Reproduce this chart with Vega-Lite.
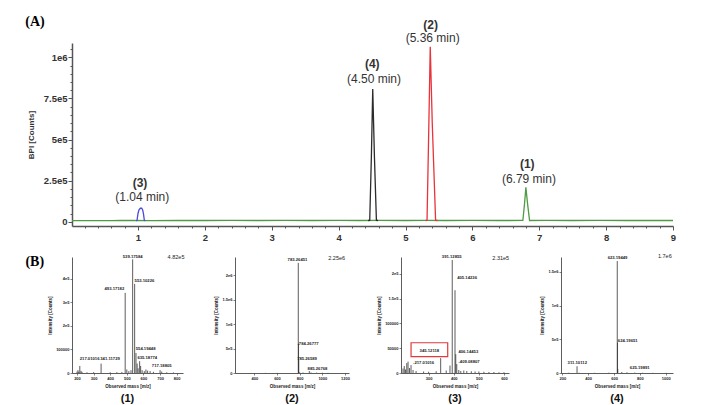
{
  "$schema": "https://vega.github.io/schema/vega-lite/v6.json",
  "autosize": {"type": "pad"},
  "padding": {"left": 25, "top": 15, "right": 20, "bottom": 3},
  "background": "white",
  "bounds": "flush",
  "spacing": 31,
  "datasets": {
    "chrom": [
      {"series": "green", "t": 0.013, "v": 7000},
      {"series": "green", "t": 0.3, "v": 7200},
      {"series": "green", "t": 0.6, "v": 6800},
      {"series": "green", "t": 0.75, "v": 8000},
      {"series": "green", "t": 0.9, "v": 7500},
      {"series": "green", "t": 1.2, "v": 7200},
      {"series": "green", "t": 1.6, "v": 7600},
      {"series": "green", "t": 2.0, "v": 7400},
      {"series": "green", "t": 2.4, "v": 7800},
      {"series": "green", "t": 2.8, "v": 7500},
      {"series": "green", "t": 3.2, "v": 7700},
      {"series": "green", "t": 3.6, "v": 7400},
      {"series": "green", "t": 4.0, "v": 7900},
      {"series": "green", "t": 4.3, "v": 7600},
      {"series": "green", "t": 4.6, "v": 7800},
      {"series": "green", "t": 5.0, "v": 7500},
      {"series": "green", "t": 5.3, "v": 7700},
      {"series": "green", "t": 5.6, "v": 7400},
      {"series": "green", "t": 6.0, "v": 7800},
      {"series": "green", "t": 6.4, "v": 7500},
      {"series": "green", "t": 6.755, "v": 7600},
      {"series": "green", "t": 6.78, "v": 110000},
      {"series": "green", "t": 6.8, "v": 209000},
      {"series": "green", "t": 6.825, "v": 110000},
      {"series": "green", "t": 6.855, "v": 7600},
      {"series": "green", "t": 7.1, "v": 7700},
      {"series": "green", "t": 7.5, "v": 7500},
      {"series": "green", "t": 7.9, "v": 7800},
      {"series": "green", "t": 8.3, "v": 7400},
      {"series": "green", "t": 8.7, "v": 7600},
      {"series": "green", "t": 9.0, "v": 7500},
      {"series": "blue", "t": 0.97, "v": 7000},
      {"series": "blue", "t": 0.985, "v": 7500},
      {"series": "blue", "t": 1.0, "v": 50000},
      {"series": "blue", "t": 1.015, "v": 73000},
      {"series": "blue", "t": 1.035, "v": 82000},
      {"series": "blue", "t": 1.055, "v": 82000},
      {"series": "blue", "t": 1.07, "v": 72000},
      {"series": "blue", "t": 1.083, "v": 45000},
      {"series": "blue", "t": 1.095, "v": 7500},
      {"series": "blue", "t": 1.11, "v": 7000},
      {"series": "black", "t": 4.44, "v": 7500},
      {"series": "black", "t": 4.465, "v": 8000},
      {"series": "black", "t": 4.49, "v": 400000},
      {"series": "black", "t": 4.51, "v": 807000},
      {"series": "black", "t": 4.535, "v": 400000},
      {"series": "black", "t": 4.565, "v": 8000},
      {"series": "black", "t": 4.59, "v": 7500},
      {"series": "red", "t": 5.3, "v": 7500},
      {"series": "red", "t": 5.322, "v": 8000},
      {"series": "red", "t": 5.345, "v": 500000},
      {"series": "red", "t": 5.37, "v": 1064000},
      {"series": "red", "t": 5.4, "v": 600000},
      {"series": "red", "t": 5.45, "v": 8000},
      {"series": "red", "t": 5.48, "v": 7500}
    ],
    "peak_ids": [
      {"t": 1.03, "v": 237000, "label": "(3)"},
      {"t": 4.503, "v": 957500, "label": "(4)"},
      {"t": 5.376, "v": 1198500, "label": "(2)"},
      {"t": 6.821, "v": 351000, "label": "(1)"}
    ],
    "peak_rts": [
      {"t": 1.064, "v": 152000, "label": "(1.04 min)"},
      {"t": 4.529, "v": 868000, "label": "(4.50 min)"},
      {"t": 5.406, "v": 1117000, "label": "(5.36 min)"},
      {"t": 6.846, "v": 260000, "label": "(6.79 min)"}
    ],
    "sticks": [
      {"panel": 1, "mz": 200, "inten": 6000},
      {"panel": 1, "mz": 206, "inten": 12000},
      {"panel": 1, "mz": 211, "inten": 5000},
      {"panel": 1, "mz": 217, "inten": 30000},
      {"panel": 1, "mz": 224, "inten": 9000},
      {"panel": 1, "mz": 230, "inten": 5000},
      {"panel": 1, "mz": 260, "inten": 3000},
      {"panel": 1, "mz": 300, "inten": 3500},
      {"panel": 1, "mz": 345, "inten": 40000},
      {"panel": 1, "mz": 400, "inten": 3000},
      {"panel": 1, "mz": 440, "inten": 3500},
      {"panel": 1, "mz": 470, "inten": 4000},
      {"panel": 1, "mz": 490, "inten": 340000},
      {"panel": 1, "mz": 500, "inten": 15000},
      {"panel": 1, "mz": 512, "inten": 8000},
      {"panel": 1, "mz": 525, "inten": 12000},
      {"panel": 1, "mz": 535, "inten": 482000},
      {"panel": 1, "mz": 547, "inten": 378000},
      {"panel": 1, "mz": 555, "inten": 85000},
      {"panel": 1, "mz": 562, "inten": 40000},
      {"panel": 1, "mz": 568, "inten": 20000},
      {"panel": 1, "mz": 577, "inten": 50000},
      {"panel": 1, "mz": 583, "inten": 30000},
      {"panel": 1, "mz": 592, "inten": 12000},
      {"panel": 1, "mz": 605, "inten": 8000},
      {"panel": 1, "mz": 615, "inten": 15000},
      {"panel": 1, "mz": 625, "inten": 10000},
      {"panel": 1, "mz": 640, "inten": 8000},
      {"panel": 1, "mz": 660, "inten": 5000},
      {"panel": 1, "mz": 700, "inten": 12000},
      {"panel": 1, "mz": 710, "inten": 6000},
      {"panel": 1, "mz": 740, "inten": 3000},
      {"panel": 1, "mz": 780, "inten": 2500},
      {"panel": 2, "mz": 500, "inten": 3000},
      {"panel": 2, "mz": 600, "inten": 3000},
      {"panel": 2, "mz": 788, "inten": 2250000},
      {"panel": 2, "mz": 790, "inten": 600000},
      {"panel": 2, "mz": 792, "inten": 280000},
      {"panel": 2, "mz": 800, "inten": 15000},
      {"panel": 2, "mz": 830, "inten": 10000},
      {"panel": 2, "mz": 885, "inten": 40000},
      {"panel": 2, "mz": 900, "inten": 10000},
      {"panel": 2, "mz": 950, "inten": 8000},
      {"panel": 2, "mz": 1000, "inten": 5000},
      {"panel": 2, "mz": 1050, "inten": 4000},
      {"panel": 3, "mz": 198, "inten": 9000},
      {"panel": 3, "mz": 203, "inten": 14000},
      {"panel": 3, "mz": 208, "inten": 7000},
      {"panel": 3, "mz": 213, "inten": 20000},
      {"panel": 3, "mz": 218, "inten": 23000},
      {"panel": 3, "mz": 224, "inten": 10000},
      {"panel": 3, "mz": 230, "inten": 16000},
      {"panel": 3, "mz": 238, "inten": 6000},
      {"panel": 3, "mz": 250, "inten": 4000},
      {"panel": 3, "mz": 280, "inten": 3000},
      {"panel": 3, "mz": 300, "inten": 2500},
      {"panel": 3, "mz": 330, "inten": 3500},
      {"panel": 3, "mz": 348, "inten": 30000},
      {"panel": 3, "mz": 370, "inten": 5000},
      {"panel": 3, "mz": 385, "inten": 15000},
      {"panel": 3, "mz": 394, "inten": 228000},
      {"panel": 3, "mz": 405, "inten": 167000},
      {"panel": 3, "mz": 408, "inten": 38000},
      {"panel": 3, "mz": 412, "inten": 18000},
      {"panel": 3, "mz": 420, "inten": 6000},
      {"panel": 3, "mz": 428, "inten": 4000},
      {"panel": 3, "mz": 440, "inten": 5000},
      {"panel": 3, "mz": 452, "inten": 4000},
      {"panel": 3, "mz": 470, "inten": 3500},
      {"panel": 3, "mz": 485, "inten": 3000},
      {"panel": 3, "mz": 500, "inten": 3000},
      {"panel": 3, "mz": 520, "inten": 2500},
      {"panel": 3, "mz": 540, "inten": 2000},
      {"panel": 3, "mz": 560, "inten": 2000},
      {"panel": 3, "mz": 580, "inten": 1500},
      {"panel": 3, "mz": 600, "inten": 1500},
      {"panel": 4, "mz": 250, "inten": 4000},
      {"panel": 4, "mz": 314, "inten": 100000},
      {"panel": 4, "mz": 330, "inten": 4000},
      {"panel": 4, "mz": 450, "inten": 3000},
      {"panel": 4, "mz": 560, "inten": 5000},
      {"panel": 4, "mz": 625, "inten": 1660000},
      {"panel": 4, "mz": 627, "inten": 450000},
      {"panel": 4, "mz": 629, "inten": 60000},
      {"panel": 4, "mz": 660, "inten": 15000},
      {"panel": 4, "mz": 700, "inten": 10000},
      {"panel": 4, "mz": 760, "inten": 6000},
      {"panel": 4, "mz": 820, "inten": 4000},
      {"panel": 4, "mz": 900, "inten": 3000},
      {"panel": 4, "mz": 1000, "inten": 2000}
    ],
    "speclab": [
      {"panel": 1, "lx": 535, "ly": 493000, "text": "539.17584"},
      {"panel": 1, "lx": 606, "ly": 390000, "text": "553.10226"},
      {"panel": 1, "lx": 425, "ly": 356000, "text": "493.17182"},
      {"panel": 1, "lx": 613, "ly": 103000, "text": "554.19448"},
      {"panel": 1, "lx": 623, "ly": 65000, "text": "635.18774"},
      {"panel": 1, "lx": 710, "ly": 28000, "text": "717.18805"},
      {"panel": 1, "lx": 276, "ly": 59000, "text": "217.01016"},
      {"panel": 1, "lx": 399, "ly": 59000, "text": "341.11729"},
      {"panel": 2, "lx": 781, "ly": 2300000, "text": "783.26451"},
      {"panel": 2, "lx": 874, "ly": 590000, "text": "-784.26777"},
      {"panel": 2, "lx": 865, "ly": 286000, "text": "785.26589"},
      {"panel": 2, "lx": 957, "ly": 82000, "text": "885.26768"},
      {"panel": 3, "lx": 392, "ly": 233000, "text": "391.12855"},
      {"panel": 3, "lx": 453, "ly": 192000, "text": "405.14236"},
      {"panel": 3, "lx": 458, "ly": 42000, "text": "406.14453"},
      {"panel": 3, "lx": 461, "ly": 22000, "text": "-409.08807"},
      {"panel": 3, "lx": 303, "ly": 44000, "text": "345.12118"},
      {"panel": 3, "lx": 280, "ly": 19600, "text": "-217.01016"},
      {"panel": 4, "lx": 627, "ly": 1705000, "text": "623.19449"},
      {"panel": 4, "lx": 706, "ly": 474000, "text": "624.19651"},
      {"panel": 4, "lx": 799, "ly": 79000, "text": "625.19891"},
      {"panel": 4, "lx": 316, "ly": 144000, "text": "311.10112"}
    ],
    "maxlab": [
      {"panel": 1, "lx": 796, "ly": 493000, "text": "4.82e5"},
      {"panel": 2, "lx": 1126, "ly": 2340000, "text": "2.25e6"},
      {"panel": 3, "lx": 587, "ly": 232000, "text": "2.31e5"},
      {"panel": 4, "lx": 993, "ly": 1730000, "text": "1.7e6"}
    ],
    "box": [
      {"panel": 3, "x1": 230, "x2": 376, "y1": 33000, "y2": 61000}
    ]
  },
  "vconcat": [
    {
      "width": 601,
      "height": 183,
      "layer": [
        {
          "data": {"name": "chrom"},
          "mark": {"type": "line", "strokeWidth": 1.3},
          "encoding": {
            "x": {
              "field": "t", "type": "quantitative",
              "scale": {"domain": [0.013, 9], "nice": false, "zero": false},
              "axis": {
                "title": null,
                "tickCount": 200,
                "values": [0.2,0.4,0.6,0.8,1,1.2,1.4,1.6,1.8,2,2.2,2.4,2.6,2.8,3,3.2,3.4,3.6,3.8,4,4.2,4.4,4.6,4.8,5,5.2,5.4,5.6,5.8,6,6.2,6.4,6.6,6.8,7,7.2,7.4,7.6,7.8,8,8.2,8.4,8.6,8.8,9],
                "labelExpr": "abs(datum.value-round(datum.value))<0.001 ? format(datum.value,'d') : ''",
                "tickSize": {"condition": {"test": "abs(datum.value-round(datum.value))<0.001", "value": 4}, "value": 2},
                "labelOverlap": false, "labelFlush": false, "labelBound": false,
                "labelFontSize": 9.5, "labelFontWeight": "bold", "labelColor": "#333",
                "labelPadding": 2, "domainColor": "#555", "domainWidth": 1.5,
                "tickColor": "#555", "tickWidth": 1
              }
            },
            "y": {
              "field": "v", "type": "quantitative",
              "scale": {"domain": [-26000, 1087000], "nice": false, "zero": false},
              "axis": {
                "title": "BPI [Counts]",
                "tickCount": 200,
                "values": [0,50000,100000,150000,200000,250000,300000,350000,400000,450000,500000,550000,600000,650000,700000,750000,800000,850000,900000,950000,1000000,1050000],
                "labelExpr": "datum.value % 250000 == 0 ? (datum.value == 0 ? '0' : replace(format(datum.value,'.2~e'),'e+','e')) : ''",
                "tickSize": {"condition": {"test": "datum.value % 250000 == 0", "value": 4}, "value": 2},
                "labelOverlap": false, "labelFlush": false, "labelBound": false,
                "labelFontSize": 9.5, "labelFontWeight": "bold", "labelColor": "#333",
                "labelPadding": 1, "domainColor": "#555", "domainWidth": 1.5,
                "tickColor": "#555", "tickWidth": 1,
                "titleFontSize": 8, "titleFontWeight": "bold", "titleColor": "#333", "titlePadding": 8
              }
            },
            "color": {
              "field": "series", "type": "nominal",
              "scale": {"domain": ["green", "blue", "black", "red"], "range": ["#4f9a45", "#4a4ad6", "#2b2b2b", "#e8333b"]},
              "legend": null
            }
          }
        },
        {
          "data": {"name": "peak_ids"},
          "mark": {"type": "text", "fontSize": 12, "fontWeight": "bold", "color": "#333", "baseline": "middle"},
          "encoding": {
            "x": {"field": "t", "type": "quantitative"},
            "y": {"field": "v", "type": "quantitative"},
            "text": {"field": "label"}
          }
        },
        {
          "data": {"name": "peak_rts"},
          "mark": {"type": "text", "fontSize": 12, "color": "#333", "baseline": "middle"},
          "encoding": {
            "x": {"field": "t", "type": "quantitative"},
            "y": {"field": "v", "type": "quantitative"},
            "text": {"field": "label"}
          }
        },
        {
          "data": {"values": [{"t": -0.54, "v": 1211700, "label": "(A)"}]},
          "mark": {"type": "text", "font": "Liberation Serif", "fontSize": 14, "fontWeight": "bold", "color": "#000", "baseline": "middle"},
          "encoding": {
            "x": {"field": "t", "type": "quantitative"},
            "y": {"field": "v", "type": "quantitative"},
            "text": {"field": "label"}
          }
        }
      ]
    },
    {
      "bounds": "flush",
      "spacing": 52,
      "hconcat": [
        {
          "width": 111, "height": 116,
          "title": {"text": "(1)", "orient": "bottom", "anchor": "middle", "fontSize": 11, "fontWeight": "bold", "color": "#111", "offset": 5},
          "layer": [
            {
              "data": {"name": "sticks"},
              "transform": [{"filter": "datum.panel == 1"}],
              "mark": {"type": "rule", "color": "#333", "strokeWidth": 0.8},
              "encoding": {
                "x": {"field": "mz", "type": "quantitative", "scale": {"domain": [170, 838], "nice": false, "zero": false},
                      "axis": {"values": [200,300,400,500,600,700,800], "tickCount": 100, "format": "d", "title": "Observed mass [m/z]", "labelOverlap": false, "labelFlush": false}},
                "y": {"field": "inten", "type": "quantitative", "scale": {"domain": [0, 492000], "nice": false},
                      "axis": {"values": [0,100000,200000,300000,400000], "tickCount": 100, "title": "Intensity [Counts]", "labelOverlap": false, "labelFlush": false,
                               "labelExpr": "datum.value==0?'0':datum.value<=100000?format(datum.value,'d'):replace(format(datum.value,'.2~e'),'e+','e')"}},
                "y2": {"datum": 0}
              }
            },
            {
              "data": {"name": "speclab"},
              "transform": [{"filter": "datum.panel == 1"}],
              "mark": {"type": "text", "fontSize": 4.2, "fontWeight": "bold", "color": "#222", "baseline": "middle"},
              "encoding": {"x": {"field": "lx", "type": "quantitative"}, "y": {"field": "ly", "type": "quantitative"}, "text": {"field": "text"}}
            },
            {
              "data": {"name": "maxlab"},
              "transform": [{"filter": "datum.panel == 1"}],
              "mark": {"type": "text", "fontSize": 5.5, "color": "#222", "baseline": "middle"},
              "encoding": {"x": {"field": "lx", "type": "quantitative"}, "y": {"field": "ly", "type": "quantitative"}, "text": {"field": "text"}}
            },
            {
              "data": {"values": [{"lx": -54, "ly": 471000, "text": "(B)"}]},
              "mark": {"type": "text", "font": "Liberation Serif", "fontSize": 14, "fontWeight": "bold", "color": "#000", "baseline": "middle"},
              "encoding": {"x": {"field": "lx", "type": "quantitative"}, "y": {"field": "ly", "type": "quantitative"}, "text": {"field": "text"}}
            }
          ]
        },
        {
          "width": 114, "height": 116,
          "title": {"text": "(2)", "orient": "bottom", "anchor": "middle", "fontSize": 11, "fontWeight": "bold", "color": "#111", "offset": 5},
          "layer": [
            {
              "data": {"name": "sticks"},
              "transform": [{"filter": "datum.panel == 2"}],
              "mark": {"type": "rule", "color": "#333", "strokeWidth": 0.8},
              "encoding": {
                "x": {"field": "mz", "type": "quantitative", "scale": {"domain": [230, 1235], "nice": false, "zero": false},
                      "axis": {"values": [400,600,800,1000,1200], "tickCount": 100, "format": "d", "title": "Observed mass [m/z]", "labelOverlap": false, "labelFlush": false}},
                "y": {"field": "inten", "type": "quantitative", "scale": {"domain": [0, 2370000], "nice": false},
                      "axis": {"values": [0,500000,1000000,1500000,2000000], "tickCount": 100, "title": "Intensity [Counts]", "labelOverlap": false, "labelFlush": false,
                               "labelExpr": "datum.value==0?'0':datum.value<=100000?format(datum.value,'d'):replace(format(datum.value,'.2~e'),'e+','e')"}},
                "y2": {"datum": 0}
              }
            },
            {
              "data": {"name": "speclab"},
              "transform": [{"filter": "datum.panel == 2"}],
              "mark": {"type": "text", "fontSize": 4.2, "fontWeight": "bold", "color": "#222", "baseline": "middle"},
              "encoding": {"x": {"field": "lx", "type": "quantitative"}, "y": {"field": "ly", "type": "quantitative"}, "text": {"field": "text"}}
            },
            {
              "data": {"name": "maxlab"},
              "transform": [{"filter": "datum.panel == 2"}],
              "mark": {"type": "text", "fontSize": 5.5, "color": "#222", "baseline": "middle"},
              "encoding": {"x": {"field": "lx", "type": "quantitative"}, "y": {"field": "ly", "type": "quantitative"}, "text": {"field": "text"}}
            }
          ]
        },
        {
          "width": 108, "height": 116,
          "title": {"text": "(3)", "orient": "bottom", "anchor": "middle", "fontSize": 11, "fontWeight": "bold", "color": "#111", "offset": 5},
          "layer": [
            {
              "data": {"name": "sticks"},
              "transform": [{"filter": "datum.panel == 3"}],
              "mark": {"type": "rule", "color": "#333", "strokeWidth": 0.8},
              "encoding": {
                "x": {"field": "mz", "type": "quantitative", "scale": {"domain": [190, 620], "nice": false, "zero": false},
                      "axis": {"values": [300,400,500,600], "tickCount": 100, "format": "d", "title": "Observed mass [m/z]", "labelOverlap": false, "labelFlush": false}},
                "y": {"field": "inten", "type": "quantitative", "scale": {"domain": [0, 234000], "nice": false},
                      "axis": {"values": [0,50000,100000,150000,200000], "tickCount": 100, "title": "Intensity [Counts]", "labelOverlap": false, "labelFlush": false,
                               "labelExpr": "datum.value==0?'0':datum.value<=100000?format(datum.value,'d'):replace(format(datum.value,'.2~e'),'e+','e')"}},
                "y2": {"datum": 0}
              }
            },
            {
              "data": {"name": "box"},
              "mark": {"type": "rect", "filled": false, "stroke": "#e03a3a", "strokeWidth": 1.2},
              "encoding": {
                "x": {"field": "x1", "type": "quantitative"}, "x2": {"field": "x2"},
                "y": {"field": "y1", "type": "quantitative"}, "y2": {"field": "y2"}
              }
            },
            {
              "data": {"name": "speclab"},
              "transform": [{"filter": "datum.panel == 3"}],
              "mark": {"type": "text", "fontSize": 4.2, "fontWeight": "bold", "color": "#222", "baseline": "middle"},
              "encoding": {"x": {"field": "lx", "type": "quantitative"}, "y": {"field": "ly", "type": "quantitative"}, "text": {"field": "text"}}
            },
            {
              "data": {"name": "maxlab"},
              "transform": [{"filter": "datum.panel == 3"}],
              "mark": {"type": "text", "fontSize": 5.5, "color": "#222", "baseline": "middle"},
              "encoding": {"x": {"field": "lx", "type": "quantitative"}, "y": {"field": "ly", "type": "quantitative"}, "text": {"field": "text"}}
            }
          ]
        },
        {
          "width": 112, "height": 116,
          "title": {"text": "(4)", "orient": "bottom", "anchor": "middle", "fontSize": 11, "fontWeight": "bold", "color": "#111", "offset": 5},
          "layer": [
            {
              "data": {"name": "sticks"},
              "transform": [{"filter": "datum.panel == 4"}],
              "mark": {"type": "rule", "color": "#333", "strokeWidth": 0.8},
              "encoding": {
                "x": {"field": "mz", "type": "quantitative", "scale": {"domain": [190, 1056], "nice": false, "zero": false},
                      "axis": {"values": [200,400,600,800,1000], "tickCount": 100, "format": "d", "title": "Observed mass [m/z]", "labelOverlap": false, "labelFlush": false}},
                "y": {"field": "inten", "type": "quantitative", "scale": {"domain": [0, 1720000], "nice": false},
                      "axis": {"values": [0,500000,1000000,1500000], "tickCount": 100, "title": "Intensity [Counts]", "labelOverlap": false, "labelFlush": false,
                               "labelExpr": "datum.value==0?'0':datum.value<=100000?format(datum.value,'d'):replace(format(datum.value,'.2~e'),'e+','e')"}},
                "y2": {"datum": 0}
              }
            },
            {
              "data": {"name": "speclab"},
              "transform": [{"filter": "datum.panel == 4"}],
              "mark": {"type": "text", "fontSize": 4.2, "fontWeight": "bold", "color": "#222", "baseline": "middle"},
              "encoding": {"x": {"field": "lx", "type": "quantitative"}, "y": {"field": "ly", "type": "quantitative"}, "text": {"field": "text"}}
            },
            {
              "data": {"name": "maxlab"},
              "transform": [{"filter": "datum.panel == 4"}],
              "mark": {"type": "text", "fontSize": 5.5, "color": "#222", "baseline": "middle"},
              "encoding": {"x": {"field": "lx", "type": "quantitative"}, "y": {"field": "ly", "type": "quantitative"}, "text": {"field": "text"}}
            }
          ]
        }
      ]
    }
  ],
  "config": {
    "font": "Liberation Sans",
    "view": {"stroke": null},
    "text": {"font": "Liberation Sans"},
    "title": {"font": "Liberation Sans"},
    "axis": {
      "grid": false,
      "labelFont": "Liberation Sans",
      "labelFontSize": 4,
      "labelFontWeight": "bold",
      "labelColor": "#222",
      "labelPadding": 1,
      "labelOverlap": false,
      "labelFlush": false,
      "titleFont": "Liberation Sans",
      "titleFontSize": 4.5,
      "titleFontWeight": "bold",
      "titleColor": "#222",
      "titlePadding": 3,
      "tickSize": 2,
      "tickColor": "#333",
      "tickWidth": 0.6,
      "domainColor": "#333",
      "domainWidth": 0.8
    }
  }
}
